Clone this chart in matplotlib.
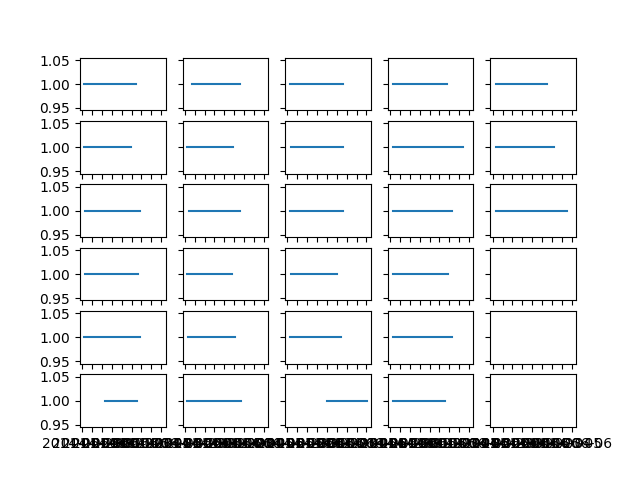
import matplotlib
matplotlib.use("Agg")
import matplotlib.pyplot as plt
import numpy as np

# start / end timestamps of each panel's segment (row by row, None = empty panel)
starts = [
    "2014-05-29 04:00", "2014-05-29 17:00", "2014-05-29 05:00", "2014-05-29 06:00", "2014-05-29 07:00",
    "2014-05-29 05:00", "2014-05-29 06:00", "2014-05-29 08:00", "2014-05-29 06:00", "2014-05-29 07:00",
    "2014-05-29 07:00", "2014-05-29 11:00", "2014-05-29 05:00", "2014-05-29 06:00", "2014-05-29 07:00",
    "2014-05-29 07:00", "2014-05-29 06:00", "2014-05-29 08:00", "2014-05-29 06:00", None,
    "2014-05-29 05:00", "2014-05-29 08:00", "2014-05-29 05:00", "2014-05-29 06:00", None,
    "2014-05-31 08:00", "2014-05-29 05:00", "2014-06-01 23:00", "2014-05-29 06:00", None,
]
ends = [
    "2014-06-03 10:00", "2014-06-03 15:00", "2014-06-03 15:00", "2014-06-03 18:00", "2014-06-03 12:00",
    "2014-06-02 22:00", "2014-06-02 22:00", "2014-06-03 15:00", "2014-06-05 09:00", "2014-06-04 06:00",
    "2014-06-03 20:00", "2014-06-03 15:00", "2014-06-03 15:00", "2014-06-04 06:00", "2014-06-05 13:00",
    "2014-06-03 15:00", "2014-06-02 19:00", "2014-06-03 00:00", "2014-06-03 20:00", None,
    "2014-06-03 20:00", "2014-06-03 03:00", "2014-06-03 10:00", "2014-06-04 06:00", None,
    "2014-06-03 12:00", "2014-06-03 17:00", "2014-06-06 01:00", "2014-06-03 13:00", None,
]
value = 1

fig, axes = plt.subplots(6, 5, sharex=True, sharey=True)

for ax, s, e in zip(axes.flat, starts, ends):
    if s is None:
        continue
    x = np.array([s, e], dtype="datetime64[m]")
    ax.plot(x, [value, value])

fig.savefig("out.png")
